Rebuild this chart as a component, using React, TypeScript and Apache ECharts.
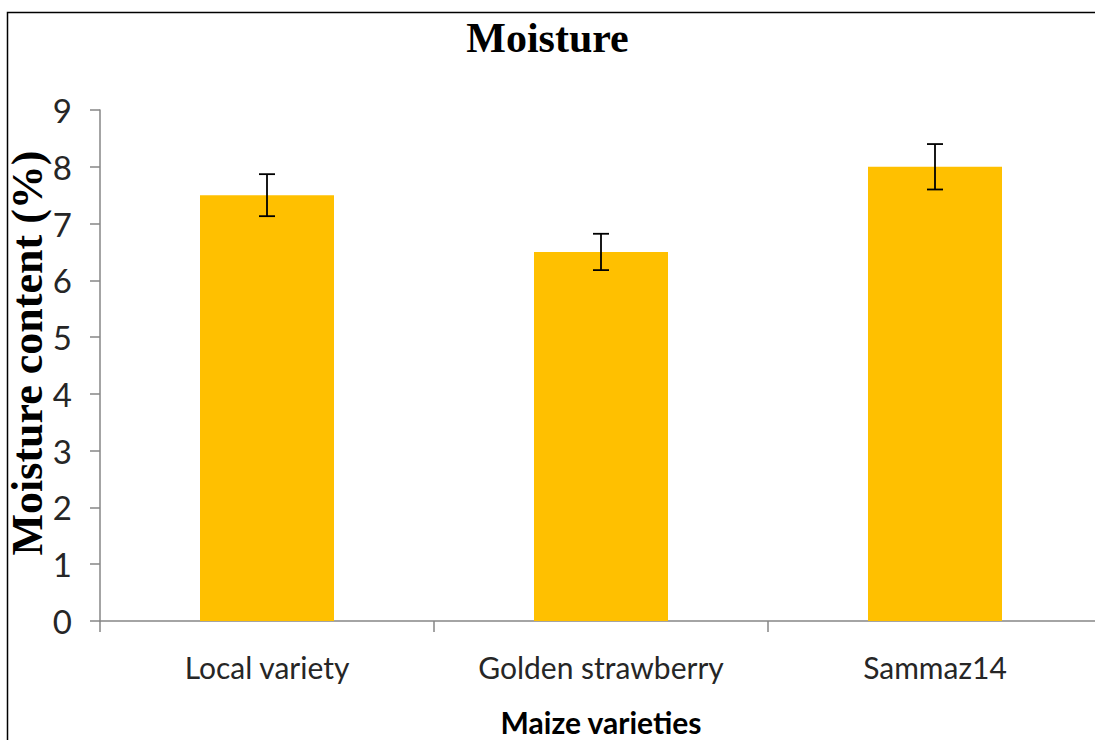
import React, { useEffect, useRef } from "react";
import * as echarts from "echarts";

const categories = ["Local variety", "Golden strawberry", "Sammaz14"];
const moisture = [7.5, 6.5, 8.0];
const errorLow = [7.13, 6.18, 7.6];
const errorHigh = [7.87, 6.82, 8.4];
const yTicks = { min: 0, max: 9, interval: 1 };

export default function App() {
  const ref = useRef<HTMLDivElement>(null);
  useEffect(() => {
    if (!ref.current) return;
    const chart = echarts.init(ref.current, null, { renderer: "svg" });
    const errData = categories.map((_, i) => [i, errorLow[i], errorHigh[i]]);
    chart.setOption({
      animation: false,
      backgroundColor: "#ffffff",
      title: {
        text: "Moisture",
        left: "center",
        top: 12,
        textStyle: {
          fontFamily: "Liberation Serif",
          fontWeight: "bold",
          fontSize: 42,
          color: "#000000",
        },
      },
      graphic: [
        {
          type: "rect",
          shape: { x: 7.5, y: 12.5, width: 1200, height: 900 },
          style: { fill: "none", stroke: "#000000", lineWidth: 1.5 },
          silent: true,
        },
        {
          type: "text",
          x: 27,
          y: 353,
          rotation: Math.PI / 2,
          style: {
            text: "Moisture content (%)",
            fontFamily: "Liberation Serif",
            fontWeight: "bold",
            fontSize: 44,
            fill: "#000000",
            align: "center",
            verticalAlign: "middle",
          },
        },
      ],
      grid: { left: 100, top: 110, width: 1002, height: 511, outerBoundsMode: "none", containLabel: false },
      xAxis: {
        type: "category",
        data: categories,
        boundaryGap: true,
        axisLine: { show: true, lineStyle: { color: "#868686", width: 1.5 } },
        axisTick: { show: true, length: 11, lineStyle: { color: "#868686", width: 1.5 } },
        axisLabel: {
          margin: 31,
          fontFamily: "Lato",
          fontSize: 30,
          color: "#262626",
        },
        name: "Maize varieties",
        nameLocation: "middle",
        nameGap: 86,
        nameTextStyle: {
          fontFamily: "Lato",
          fontWeight: "bold",
          fontSize: 30,
          color: "#000000",
        },
      },
      yAxis: {
        type: "value",
        min: yTicks.min,
        max: yTicks.max,
        interval: yTicks.interval,
        splitLine: { show: false },
        axisLine: { show: true, lineStyle: { color: "#868686", width: 1.5 } },
        axisTick: { show: true, length: 10, lineStyle: { color: "#868686", width: 1.5 } },
        axisLabel: {
          margin: 28,
          fontFamily: "Lato",
          fontSize: 33,
          color: "#262626",
        },
      },
      series: [
        {
          type: "bar",
          data: moisture,
          barWidth: 134,
          itemStyle: { color: "#FFC000" },
        },
        {
          type: "custom",
          data: errData,
          z: 10,
          renderItem: (params: any, api: any) => {
            const x = api.value(0);
            const lo = api.coord([x, api.value(1)]);
            const hi = api.coord([x, api.value(2)]);
            const half = 8;
            const style = { stroke: "#000000", lineWidth: 1.8 };
            return {
              type: "group",
              children: [
                { type: "line", shape: { x1: lo[0], y1: lo[1], x2: hi[0], y2: hi[1] }, style },
                { type: "line", shape: { x1: lo[0] - half, y1: lo[1], x2: lo[0] + half, y2: lo[1] }, style },
                { type: "line", shape: { x1: hi[0] - half, y1: hi[1], x2: hi[0] + half, y2: hi[1] }, style },
              ],
            };
          },
        },
      ],
    });
    return () => chart.dispose();
  }, []);
  return (
    <div
      ref={ref}
      style={{ position: "absolute", left: 0, top: 0, width: 1095, height: 740 }}
    />
  );
}
